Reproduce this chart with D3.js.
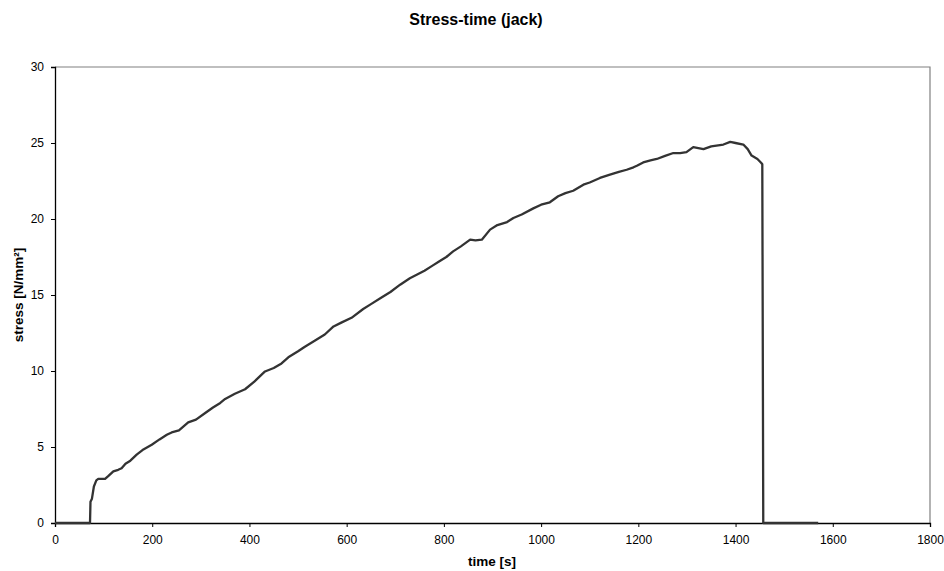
<!DOCTYPE html>
<html>
<head>
<meta charset="utf-8">
<script src="https://cdn.jsdelivr.net/npm/d3@7"></script>
<style>
html,body{margin:0;padding:0;background:#fff;}
svg{display:block;font-family:"Liberation Sans",Arial,sans-serif;}
</style>
</head>
<body>
<svg id="chart" width="944" height="571"></svg>
<script>
const chartTitle = "Stress-time (jack)";
const xLabel = "time [s]";
const yLabel = "stress [N/mm²]";
const xTicks = [0,200,400,600,800,1000,1200,1400,1600,1800];
const yTicks = [0,5,10,15,20,25,30];
const timeS = [0,72,73,76,80,85,89,96,103,110,120,130,137,145,155,168,180,199,215,230,240,255,274,290,309,325,340,350,370,391,410,432,450,466,480,500,514,535,555,573,590,610,634,650,670,690,710,730,744,760,775,790,805,819,835,854,865,878,895,910,930,943,960,984,1000,1018,1035,1050,1066,1087,1100,1121,1140,1160,1176,1190,1197,1210,1225,1238,1255,1272,1286,1299,1313,1334,1350,1375,1389,1400,1416,1425,1433,1445,1453,1455,1457,1570];
const stress = [0,0,1.4,1.6,2.4,2.8,2.9,2.9,2.9,3.1,3.4,3.5,3.6,3.9,4.1,4.5,4.8,5.15,5.5,5.8,5.96,6.1,6.62,6.8,7.24,7.6,7.9,8.16,8.5,8.8,9.3,9.97,10.2,10.5,10.9,11.3,11.6,12.0,12.4,12.93,13.2,13.5,14.08,14.4,14.8,15.2,15.68,16.1,16.33,16.6,16.9,17.2,17.5,17.87,18.2,18.64,18.6,18.64,19.3,19.6,19.8,20.07,20.3,20.7,20.94,21.1,21.5,21.7,21.86,22.26,22.4,22.7,22.9,23.1,23.24,23.4,23.5,23.72,23.85,23.95,24.15,24.34,24.34,24.4,24.73,24.6,24.78,24.9,25.07,25.0,24.9,24.6,24.17,23.95,23.68,23.6,0,0];

(function(){
const svg = d3.select("#chart");
const pL = 55, pR = 930, pT = 67, pB = 523;
const x = d3.scaleLinear().domain([0,1800]).range([pL,pR]);
const y = d3.scaleLinear().domain([0,30]).range([pB,pT]);

// plot border (top/right grey)
svg.append("path")
  .attr("d", `M${pL},${pT}H${pR}V${pB}`)
  .attr("fill","none").attr("stroke","#808080").attr("stroke-width",1.2);

const xAxis = svg.append("g").attr("transform",`translate(0,${pB})`)
  .call(d3.axisBottom(x).tickValues(xTicks).tickSize(4).tickPadding(8).tickFormat(d3.format("d")));
const yAxis = svg.append("g").attr("transform",`translate(${pL},0)`)
  .call(d3.axisLeft(y).tickValues(yTicks).tickSize(4).tickPadding(7).tickFormat(d3.format("d")));
[xAxis,yAxis].forEach(g=>{
  g.selectAll("path").attr("stroke","#000").attr("stroke-width",1.3);
  g.selectAll("line").attr("stroke","#000").attr("stroke-width",1);
  g.selectAll("text").attr("font-size","12px").attr("fill","#000")
    .attr("font-family","'Liberation Sans',Arial,sans-serif");
});

const pts = timeS.map((t,i)=>[t,stress[i]]);
svg.append("path").datum(pts)
  .attr("d", d3.line().x(d=>x(d[0])).y(d=>y(d[1])))
  .attr("fill","none").attr("stroke","#333").attr("stroke-width",2.3)
  .attr("stroke-linejoin","round");

svg.append("text").attr("x",476).attr("y",25).attr("text-anchor","middle")
  .attr("font-size","16px").attr("font-weight","bold").text(chartTitle);
svg.append("text").attr("x",492).attr("y",566).attr("text-anchor","middle")
  .attr("font-size","13.5px").attr("font-weight","bold").text(xLabel);
svg.append("text").attr("transform","translate(23,295) rotate(-90)").attr("text-anchor","middle")
  .attr("font-size","13.5px").attr("font-weight","bold").text(yLabel);
})();
</script>
</body>
</html>
